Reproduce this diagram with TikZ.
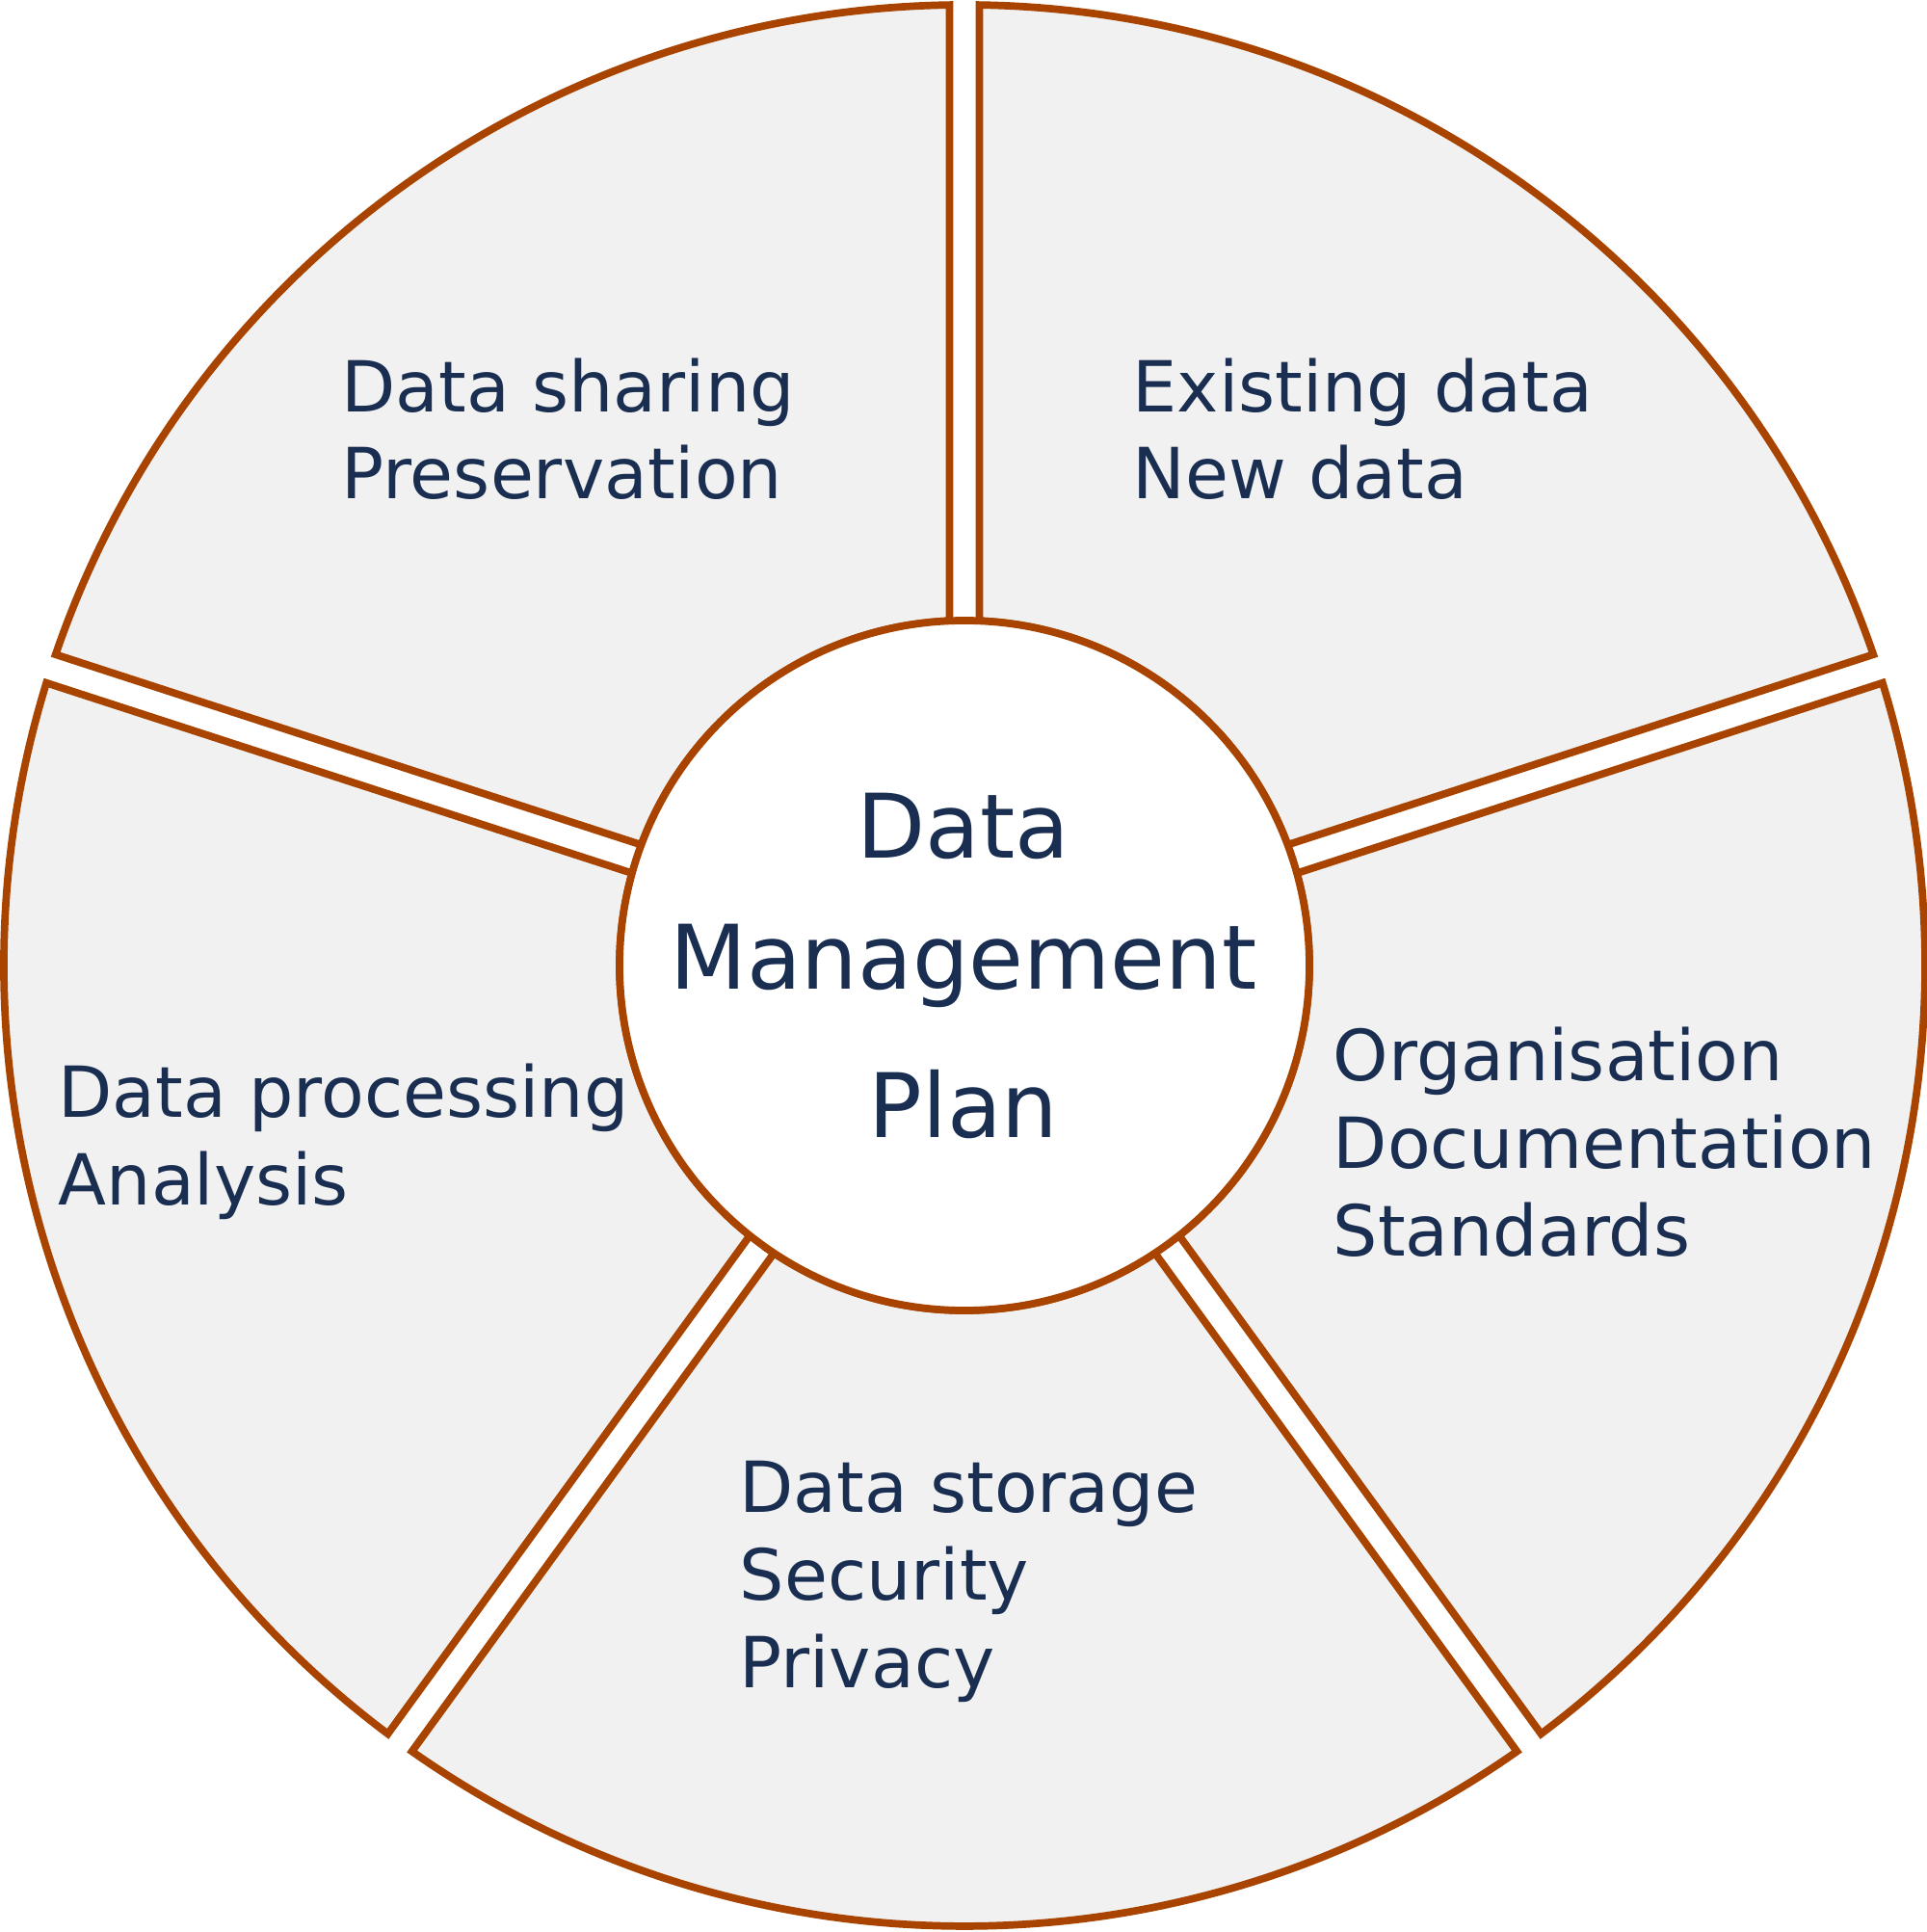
\documentclass[tikz,border=0pt]{standalone}
\usepackage{fontspec}
\setmainfont{DejaVu Sans}
\usetikzlibrary{calc}
\definecolor{rim}{RGB}{169,67,0}
\definecolor{segfill}{RGB}{241,241,241}
\definecolor{ink}{RGB}{25,46,81}
\begin{document}
\begin{tikzpicture}[
  seg/.style={draw=rim, fill=segfill, line width=2.2pt},
  hub/.style={circle, draw=rim, fill=white, line width=2.2pt, minimum size=7.16cm, inner sep=0pt},
  lbl/.style={anchor=base west, inner sep=0pt, text=ink, font=\fontsize{20.8pt}{25pt}\selectfont},
  ctr/.style={anchor=base, inner sep=0pt, text=ink, font=\fontsize{26.3pt}{32pt}\selectfont}
]
\useasboundingbox (0,0) rectangle (20,20.05);
\coordinate (C) at (10.01,10.03);
\def\R{9.97}
\def\r{3.58}
\def\dO{0.89}
\def\dI{2.48}
\foreach \a/\b in {18/90, 90/162, 162/234, 234/306, 306/378}{
  \draw[seg] ($(C)+(\a+\dI:\r)$) -- ($(C)+(\a+\dO:\R)$)
    arc[start angle=\a+\dO, end angle=\b-\dO, radius=\R]
    -- ($(C)+(\b-\dI:\r)$)
    arc[start angle=\b-\dI, end angle=\a+\dI, radius=\r] -- cycle;
}
\node[hub] (dmp) at (C) {};
\node[ctr] (c1) at (10,11.14) {Data};
\node[ctr] (c2) at (10,9.78) {Management};
\node[ctr] (c3) at (10,8.24) {Plan};
\node[lbl] (s1) at (3.54,15.77) {Data sharing};
\node[lbl] (s2) at (3.54,14.87) {Preservation};
\node[lbl] (e1) at (11.75,15.77) {Existing data};
\node[lbl] (e2) at (11.75,14.87) {New data};
\node[lbl] (o1) at (13.83,8.83) {Organisation};
\node[lbl] (o2) at (13.83,7.92) {Documentation};
\node[lbl] (o3) at (13.83,7.01) {Standards};
\node[lbl] (p1) at (0.60,8.45) {Data processing};
\node[lbl] (p2) at (0.60,7.54) {Analysis};
\node[lbl] (t1) at (7.67,4.35) {Data storage};
\node[lbl] (t2) at (7.67,3.44) {Security};
\node[lbl] (t3) at (7.67,2.53) {Privacy};
\end{tikzpicture}
\end{document}
